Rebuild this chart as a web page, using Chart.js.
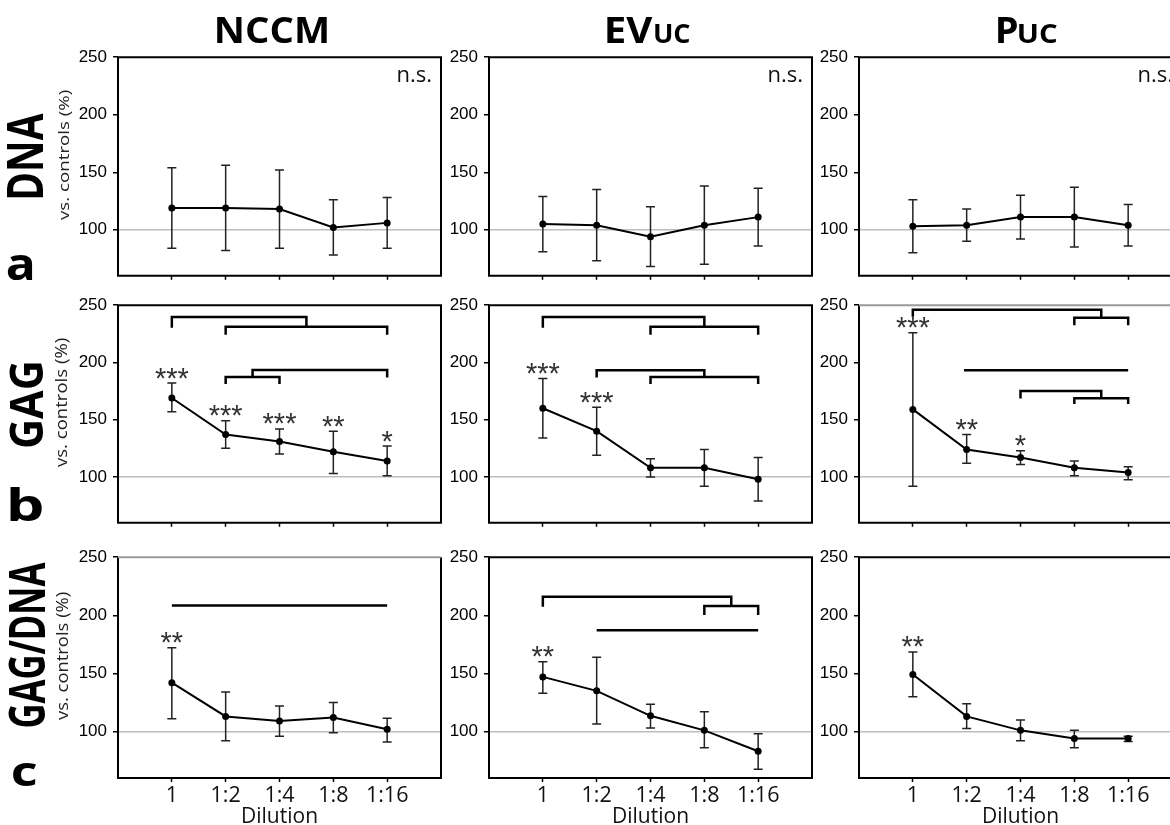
<!DOCTYPE html>
<html><head><meta charset="utf-8">
<script src="https://cdn.jsdelivr.net/npm/chart.js@4.4.1/dist/chart.umd.min.js"></script>
<style>
html,body{margin:0;padding:0;background:#fff;}
body{width:1170px;height:825px;overflow:hidden;position:relative;}
canvas{position:absolute;}
svg{position:absolute;left:0;top:0;pointer-events:none;}
</style></head>
<body>
<svg id="ov" width="1170" height="825"></svg>
<script>
// ---------- data ----------
const dilutionLabels = ['1', '1:2', '1:4', '1:8', '1:16'];
const dilutionSteps = [1, 2, 3, 4, 5];
const yTickValues = [100, 150, 200, 250];
const controlLevel = 100;

// row a: DNA
const dnaNccmMean  = [119, 119, 118, 102, 106];
const dnaNccmUpper = [154, 156, 152, 126, 128];
const dnaNccmLower = [84, 82, 84, 78, 84];
const dnaEvMean  = [105, 104, 94, 104, 111];
const dnaEvUpper = [129, 135, 120, 138, 136];
const dnaEvLower = [81, 73, 68, 70, 86];
const dnaPucMean  = [103, 104, 111, 111, 104];
const dnaPucUpper = [126, 118, 130, 137, 122];
const dnaPucLower = [80, 90, 92, 85, 86];

// row b: GAG
const gagNccmMean  = [169, 137, 131, 122, 114];
const gagNccmUpper = [182, 149, 142, 140, 127];
const gagNccmLower = [157, 125, 120, 103, 101];
const gagNccmStars = ['***', '***', '***', '**', '*'];
const gagNccmBrackets = [[1, 3.5, 239.6, 230.3, 231.2], [2, 5, 231.2, 224.2, 224.2], [2.5, 5, 193.5, 187.4, 186.8], [2, 3, 187.4, 181.2, 181.2]];
const gagEvMean  = [160, 140, 108, 108, 98];
const gagEvUpper = [186, 161, 116, 124, 117];
const gagEvLower = [134, 119, 100, 92, 79];
const gagEvStars = ['***', '***', '', '', ''];
const gagEvBrackets = [[1, 4, 239.6, 230.3, 231.2], [3, 5, 231.2, 224.2, 224.2], [2, 4, 193.3, 186.8, 187.4], [3, 5, 187.4, 181.2, 181.2]];
const gagPucMean  = [159, 124, 117, 108, 104];
const gagPucUpper = [226, 137, 123, 114, 109];
const gagPucLower = [92, 112, 111, 101, 97.5];
const gagPucStars = ['***', '**', '*', '', ''];
const gagPucBrackets = [[1, 4.5, 246, 240, 239], [4, 5, 239, 232.6, 232.6], [1.95, 5, 193.3, 193.3, 193.3], [3, 4.5, 175, 168.5, 168.8], [4, 5, 168.8, 163.8, 163.8]];

// row c: GAG/DNA
const ratioNccmMean  = [142, 113, 109, 112, 102];
const ratioNccmUpper = [172, 134, 122, 125, 111.5];
const ratioNccmLower = [111, 92, 96, 99, 91];
const ratioNccmStars = ['**', '', '', '', ''];
const ratioNccmBrackets = [[1, 5, 208.4, 208.4, 208.4]];
const ratioEvMean  = [147, 135, 113.5, 101, 83];
const ratioEvUpper = [160, 164, 123.5, 117, 98];
const ratioEvLower = [133, 106.5, 103, 86, 67.5];
const ratioEvStars = ['**', '', '', '', ''];
const ratioEvBrackets = [[1, 4.5, 216, 207.3, 207.9], [4, 5, 207.9, 200.3, 200.3], [2, 5, 187.1, 187.1, 187.1]];
const ratioPucMean  = [149, 113, 101, 94, 94];
const ratioPucUpper = [168.5, 124, 110, 101, 96];
const ratioPucLower = [130, 102.5, 92, 86, 91.5];
const ratioPucStars = ['**', '', '', '', ''];

const panels = [
  {row:0,col:0,mean:dnaNccmMean,upper:dnaNccmUpper,lower:dnaNccmLower,stars:[],brackets:[],ns:'n.s.'},
  {row:0,col:1,mean:dnaEvMean,upper:dnaEvUpper,lower:dnaEvLower,stars:[],brackets:[],ns:'n.s.'},
  {row:0,col:2,mean:dnaPucMean,upper:dnaPucUpper,lower:dnaPucLower,stars:[],brackets:[],ns:'n.s.'},
  {row:1,col:0,mean:gagNccmMean,upper:gagNccmUpper,lower:gagNccmLower,stars:gagNccmStars,brackets:gagNccmBrackets},
  {row:1,col:1,mean:gagEvMean,upper:gagEvUpper,lower:gagEvLower,stars:gagEvStars,brackets:gagEvBrackets},
  {row:1,col:2,mean:gagPucMean,upper:gagPucUpper,lower:gagPucLower,stars:gagPucStars,brackets:gagPucBrackets,grayTop:true},
  {row:2,col:0,mean:ratioNccmMean,upper:ratioNccmUpper,lower:ratioNccmLower,stars:ratioNccmStars,brackets:ratioNccmBrackets,grayTop:true},
  {row:2,col:1,mean:ratioEvMean,upper:ratioEvUpper,lower:ratioEvLower,stars:ratioEvStars,brackets:ratioEvBrackets},
  {row:2,col:2,mean:ratioPucMean,upper:ratioPucUpper,lower:ratioPucLower,stars:ratioPucStars,brackets:[]}
];

// ---------- layout ----------
const colLeft = [118, 489, 859];
const rowTop = [53, 301, 553];
const plotW = 323;
const plotH = [227, 226, 225];
const AXW = 70, PADT = 12, PADR = 14;
const xAxisH = [12, 12, 52];

const marks = {
  id: 'marks',
  beforeDatasetsDraw(chart, args, o) {
    const p = o.panel; const ctx = chart.ctx;
    const xs = chart.scales.x, ys = chart.scales.y;
    ctx.save();
    ctx.strokeStyle = '#222'; ctx.lineWidth = 1.5;
    dilutionSteps.forEach((s, i) => {
      const x = xs.getPixelForValue(s);
      const yh = ys.getPixelForValue(p.upper[i]), yl = ys.getPixelForValue(p.lower[i]);
      ctx.beginPath();
      ctx.moveTo(x, yh); ctx.lineTo(x, yl);
      ctx.moveTo(x - 4.5, yh); ctx.lineTo(x + 4.5, yh);
      ctx.moveTo(x - 4.5, yl); ctx.lineTo(x + 4.5, yl);
      ctx.stroke();
    });
    ctx.strokeStyle = '#000'; ctx.lineWidth = 2.5; ctx.lineJoin = 'miter'; ctx.lineCap = 'butt';
    p.brackets.forEach(b => {
      const xl = xs.getPixelForValue(b[0]), xr = xs.getPixelForValue(b[1]);
      const yt = ys.getPixelForValue(b[2]), yl = ys.getPixelForValue(b[3]), yr = ys.getPixelForValue(b[4]);
      ctx.beginPath();
      ctx.moveTo(xl, yl); ctx.lineTo(xl, yt); ctx.lineTo(xr, yt); ctx.lineTo(xr, yr);
      ctx.stroke();
    });
    ctx.restore();
  },
  afterDatasetsDraw(chart, args, o) {
    const p = o.panel; const ctx = chart.ctx; const a = chart.chartArea;
    const xs = chart.scales.x, ys = chart.scales.y;
    ctx.save();
    ctx.font = '29px "Liberation Sans"'; ctx.fillStyle = '#333'; ctx.textAlign = 'center'; ctx.textBaseline = 'alphabetic';
    p.stars.forEach((s, i) => {
      if (!s) return;
      const m = ctx.measureText(s);
      const inkMid = (m.actualBoundingBoxAscent - m.actualBoundingBoxDescent) / 2;
      const yc = ys.getPixelForValue(p.upper[i]) - 10;
      ctx.fillText(s, xs.getPixelForValue(dilutionSteps[i]), yc + inkMid);
    });
    if (p.ns) {
      ctx.font = '22px "Open Sans"'; ctx.fillStyle = '#111'; ctx.textAlign = 'right';
      ctx.fillText(p.ns, a.right - 9, a.top + 25);
    }
    ctx.lineWidth = 2; ctx.strokeStyle = '#000';
    ctx.beginPath();
    ctx.moveTo(a.left, a.top); ctx.lineTo(a.left, a.bottom); ctx.lineTo(a.right, a.bottom); ctx.lineTo(a.right, a.top);
    if (!p.grayTop) ctx.lineTo(a.left - 1, a.top);
    ctx.stroke();
    if (p.grayTop) {
      ctx.strokeStyle = '#9a9a9a'; ctx.lineWidth = 2;
      ctx.beginPath(); ctx.moveTo(a.left, a.top); ctx.lineTo(a.right, a.top); ctx.stroke();
    }
    ctx.restore();
  }
};

panels.forEach(p => {
  const cv = document.createElement('canvas');
  const w = AXW + plotW + PADR, h = PADT + plotH[p.row] + xAxisH[p.row];
  cv.width = w; cv.height = h;
  cv.style.left = (colLeft[p.col] - AXW) + 'px';
  cv.style.top = (rowTop[p.row] - PADT) + 'px';
  cv.style.width = w + 'px'; cv.style.height = h + 'px';
  document.body.appendChild(cv);
  const bottomRow = p.row === 2;
  new Chart(cv, {
    type: 'line',
    data: { datasets: [{
      data: dilutionSteps.map((s, i) => ({ x: s, y: p.mean[i] })),
      borderColor: '#000', borderWidth: 2, tension: 0,
      pointRadius: 3.5, pointBackgroundColor: '#000', pointBorderWidth: 0
    }]},
    options: {
      responsive: false, animation: false, devicePixelRatio: 1,
      layout: { padding: { top: PADT, right: PADR, left: 0, bottom: 0 } },
      plugins: { legend: { display: false }, tooltip: { enabled: false }, marks: { panel: p } },
      scales: {
        x: {
          type: 'linear', min: 0, max: 6,
          afterBuildTicks: ax => { ax.ticks = dilutionSteps.map(v => ({ value: v })); },
          afterFit: s => { s.height = xAxisH[p.row]; },
          border: { display: false },
          grid: { drawOnChartArea: false, drawTicks: true, tickLength: 4, tickColor: '#000', tickWidth: 1.5 },
          ticks: { display: bottomRow, autoSkip: false, maxRotation: 0, padding: 1,
                   callback: (v, i) => dilutionLabels[i],
                   font: { family: 'Open Sans', size: 21.5 }, color: '#111' },
          title: { display: bottomRow, text: 'Dilution', padding: 0,
                   font: { family: 'Open Sans', size: 21 }, color: '#111' }
        },
        y: {
          min: 60, max: 250,
          afterBuildTicks: ax => { ax.ticks = yTickValues.map(v => ({ value: v })); },
          afterFit: s => { s.width = AXW; },
          border: { display: false },
          grid: { color: c => (c.tick && c.tick.value === controlLevel) ? '#bdbdbd' : 'rgba(0,0,0,0)',
                  lineWidth: 1.5, tickColor: '#000', tickLength: 5, tickWidth: 1.5 },
          ticks: { padding: 6, font: { family: 'Liberation Sans', size: 17 }, color: '#000' }
        }
      }
    },
    plugins: [marks]
  });
});

// ---------- outer labels (real SVG text, fitted to measured boxes) ----------
const outerLabels = [
  { text: 'NCCM', weight: 700, size: 36, box: [217, 17, 327, 43], rot: 0 },
  { text: 'EV', weight: 700, size: 36, box: [607, 17, 653, 43], rot: 0 },
  { text: 'UC', weight: 700, size: 26, box: [655, 24, 690, 43], rot: 0 },
  { text: 'P', weight: 700, size: 36, box: [998, 17, 1017, 43], rot: 0 },
  { text: 'UC', weight: 700, size: 26, box: [1019, 24, 1057, 43], rot: 0 },
  { text: 'DNA', weight: 700, size: 44, box: [7, 113, 43, 198], rot: -90 },
  { text: 'GAG', weight: 700, size: 44, box: [8, 363, 43, 447], rot: -90 },
  { text: 'GAG/DNA', weight: 700, size: 44, box: [7, 562, 45, 727], rot: -90 },
  { text: 'a', weight: 700, size: 44, box: [7, 255, 33, 280], rot: 0 },
  { text: 'b', weight: 700, size: 44, box: [10, 486, 42, 521], rot: 0 },
  { text: 'c', weight: 700, size: 44, box: [12, 763, 37, 786], rot: 0 },
  { text: 'vs. controls (%)', weight: 400, size: 18, box: [57, 90, 71, 220], rot: -90 },
  { text: 'vs. controls (%)', weight: 400, size: 18, box: [55, 338, 70, 467], rot: -90 },
  { text: 'vs. controls (%)', weight: 400, size: 18, box: [56, 592, 71, 720], rot: -90 }
];
const NS = 'http://www.w3.org/2000/svg';
const svg = document.getElementById('ov');
const mctx = document.createElement('canvas').getContext('2d');
outerLabels.forEach(L => {
  mctx.font = `${L.weight} ${L.size}px "Open Sans"`;
  const m = mctx.measureText(L.text);
  const iL = -m.actualBoundingBoxLeft, iR = m.actualBoundingBoxRight;
  const iT = -m.actualBoundingBoxAscent, iB = m.actualBoundingBoxDescent;
  const iw = iR - iL, ih = iB - iT;
  const [x0, y0, x1, y1] = L.box;
  const bw = x1 - x0, bh = y1 - y0, cx = (x0 + x1) / 2, cy = (y0 + y1) / 2;
  const sx = L.rot ? bh / iw : bw / iw;
  const sy = L.rot ? bw / ih : bh / ih;
  const t = document.createElementNS(NS, 'text');
  t.setAttribute('font-family', 'Open Sans');
  t.setAttribute('font-weight', L.weight);
  t.setAttribute('font-size', L.size);
  t.setAttribute('fill', L.weight === 700 ? '#000' : '#222');
  t.setAttribute('transform', `translate(${cx},${cy}) rotate(${L.rot}) scale(${sx},${sy}) translate(${-(iL + iR) / 2},${-(iT + iB) / 2})`);
  t.textContent = L.text;
  svg.appendChild(t);
});
document.body.appendChild(svg);
</script>
</body></html>
